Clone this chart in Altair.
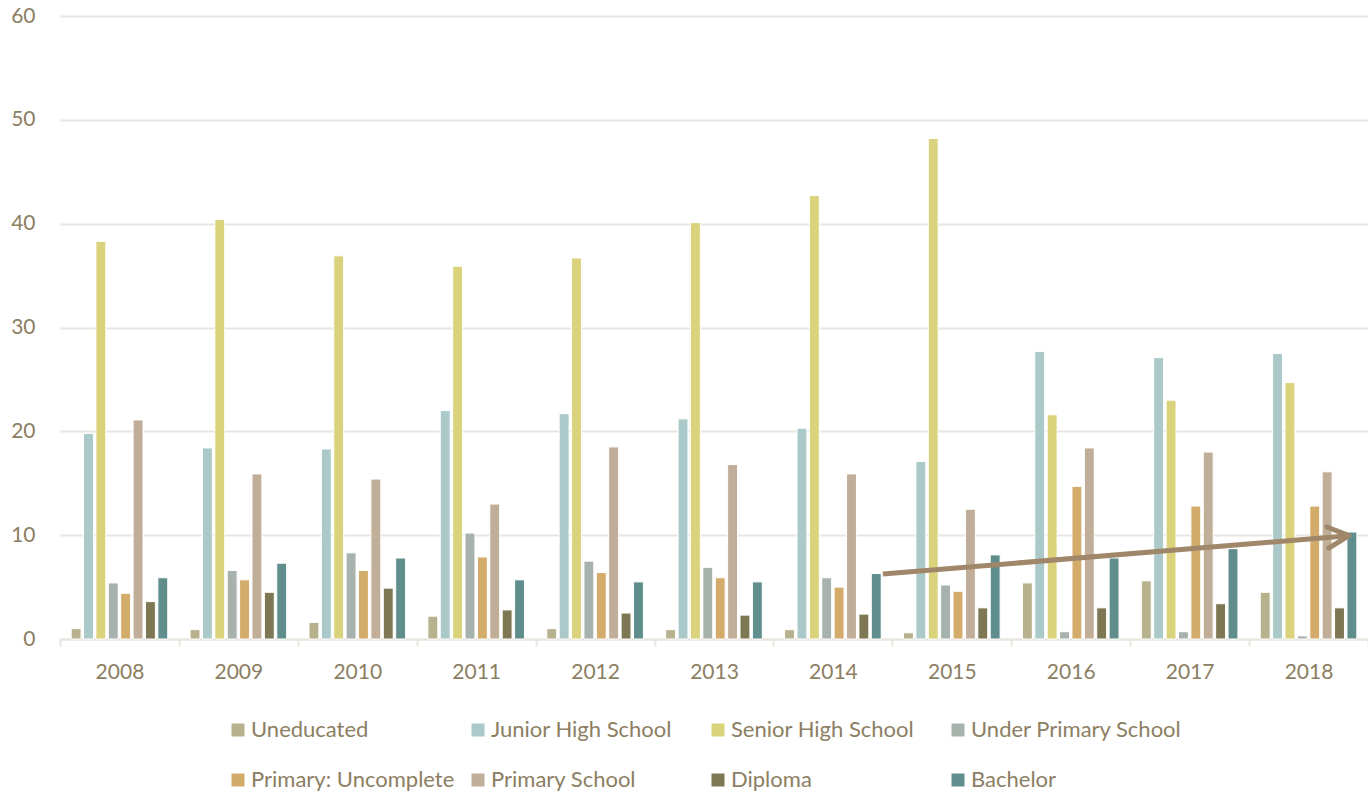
import altair as alt
import pandas as pd

# Education level shares per year (%)
years = [2008, 2009, 2010, 2011, 2012, 2013, 2014, 2015, 2016, 2017, 2018]
series = [
    "Uneducated",
    "Junior High School",
    "Senior High School",
    "Under Primary School",
    "Primary: Uncomplete",
    "Primary School",
    "Diploma",
    "Bachelor",
]
colors = ["#B8B18D", "#ABC9C9", "#DAD37C", "#A7B2AD", "#D3AC6C", "#C0AE98", "#7E7754", "#608E8C"]

uneducated = [1.0, 0.9, 1.6, 2.2, 1.0, 0.9, 0.9, 0.6, 5.4, 5.6, 4.5]
junior_high = [19.8, 18.4, 18.3, 22.0, 21.7, 21.2, 20.3, 17.1, 27.7, 27.1, 27.5]
senior_high = [38.3, 40.4, 36.9, 35.9, 36.7, 40.1, 42.7, 48.2, 21.6, 23.0, 24.7]
under_primary = [5.4, 6.6, 8.3, 10.2, 7.5, 6.9, 5.9, 5.2, 0.7, 0.7, 0.3]
primary_uncomplete = [4.4, 5.7, 6.6, 7.9, 6.4, 5.9, 5.0, 4.6, 14.7, 12.8, 12.8]
primary_school = [21.1, 15.9, 15.4, 13.0, 18.5, 16.8, 15.9, 12.5, 18.4, 18.0, 16.1]
diploma = [3.6, 4.5, 4.9, 2.8, 2.5, 2.3, 2.4, 3.0, 3.0, 3.4, 3.0]
bachelor = [5.9, 7.3, 7.8, 5.7, 5.5, 5.5, 6.3, 8.1, 7.8, 8.7, 10.3]

series_values = [
    uneducated, junior_high, senior_high, under_primary,
    primary_uncomplete, primary_school, diploma, bachelor,
]

# Trend arrow for Bachelor, 2014 -> 2018 (x in year-slot units along the axis)
arrow_x = [6.92, 10.84]
arrow_y = [6.25, 9.95]

text_color = "#8C7E62"
grid_color = "#E9E5DF"
arrow_color = "#A08769"

rows = []
for name, vals in zip(series, series_values):
    for yr, v in zip(years, vals):
        rows.append({"year": str(yr), "series": name, "value": v})
df = pd.DataFrame(rows)

arrow_df = pd.DataFrame({"pos": arrow_x, "value": arrow_y})
head_df = pd.DataFrame({"pos": arrow_x[-1:], "value": arrow_y[-1:]})

y_scale = alt.Scale(domain=[0, 60], nice=False)
y_axis = alt.Axis(
    title=None, values=[0, 10, 20, 30, 40, 50, 60], domain=False, ticks=False,
    labelPadding=25, labelFont="Lato", labelFontSize=21, labelColor=text_color,
    grid=True, gridColor=grid_color, gridWidth=2,
)

bars = alt.Chart(df).mark_bar(stroke="white", strokeWidth=1).encode(
    x=alt.X(
        "year:N",
        scale=alt.Scale(paddingInner=0, paddingOuter=0),
        axis=alt.Axis(
            title=None, labelAngle=0, tickBand="extent", grid=False,
            domainColor=grid_color, domainWidth=2, tickColor=grid_color,
            tickWidth=2, tickSize=7, labelPadding=15, labelFont="Lato",
            labelFontSize=21, labelColor=text_color,
        ),
    ),
    xOffset=alt.XOffset(
        "series:N", sort=series,
        scale=alt.Scale(paddingInner=0.2, paddingOuter=0.9),
    ),
    y=alt.Y("value:Q", scale=y_scale, axis=y_axis),
    color=alt.Color(
        "series:N",
        sort=series,
        scale=alt.Scale(domain=series, range=colors),
        legend=alt.Legend(
            title=None, orient="none", legendX=167, legendY=703,
            direction="horizontal", columns=4, gridAlign="all",
            symbolType="square", symbolSize=169, symbolStrokeWidth=0,
            labelFont="Lato", labelFontSize=22, labelColor=text_color,
            labelOffset=2, labelLimit=400, columnPadding=5, rowPadding=28,
            labelExpr="(datum.label == 'Junior High School' || datum.label == 'Primary School') ? '\u00a0' + datum.label : datum.label",
        ),
    ),
)

arrow_x_enc = alt.X("pos:Q", scale=alt.Scale(domain=[0, 11], nice=False, zero=False), axis=None)

arrow_line = alt.Chart(arrow_df).mark_line(
    color=arrow_color, strokeWidth=5, strokeCap="butt"
).encode(
    x=arrow_x_enc,
    y=alt.Y("value:Q", scale=y_scale, axis=y_axis),
)

arrow_head = alt.Chart(head_df).mark_point(
    shape="M -1 -0.5 L 0 0 L -1 0.5", filled=False, size=1800,
    strokeWidth=5, angle=355, color=arrow_color, opacity=1,
    strokeCap="round", strokeJoin="round",
).encode(
    x=arrow_x_enc,
    y=alt.Y("value:Q", scale=y_scale, axis=y_axis),
)

chart = (
    alt.layer(bars, arrow_line, arrow_head)
    .resolve_scale(x="independent")
    .properties(
        width=1308,
        height=623,
        padding={"left": 60, "top": 16, "right": 0, "bottom": 155},
        autosize=alt.AutoSizeParams(type="none"),
        background="white",
    )
    .configure_view(stroke=None)
)

chart.save("out.html", embed_options={"renderer": "svg", "actions": False})
